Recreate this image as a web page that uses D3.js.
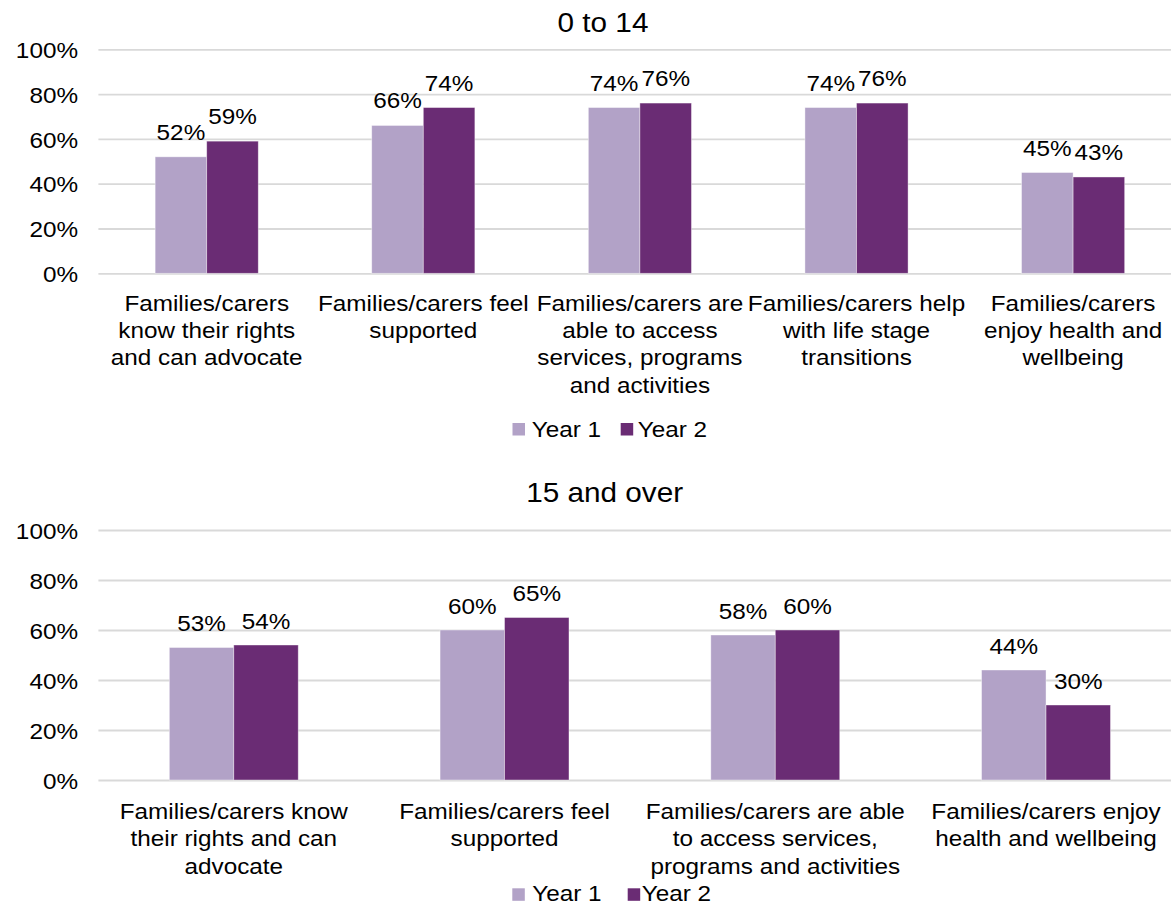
<!DOCTYPE html>
<html>
<head>
<meta charset="utf-8">
<script src="https://cdn.jsdelivr.net/npm/d3@7"></script>
<style>
  body { margin: 0; background: #fff; }
  svg { display: block; }
  text { font-family: "Liberation Sans", Arial, Helvetica, sans-serif; fill: #000; }
</style>
</head>
<body>
<svg id="chart" width="1171" height="905"></svg>
<script>
// ---- data ----
const series = ["Year 1", "Year 2"];
const seriesColors = ["#b2a2c7", "#6a2c74"];
const yTickValues = [0, 20, 40, 60, 80, 100];

const childTitle = "0 to 14";
const childCategories = [
  ["Families/carers", "know their rights", "and can advocate"],
  ["Families/carers feel", "supported"],
  ["Families/carers are", "able to access", "services, programs", "and activities"],
  ["Families/carers help", "with life stage", "transitions"],
  ["Families/carers", "enjoy health and", "wellbeing"]
];
const childYear1 = [52, 66, 74, 74, 45];
const childYear2 = [59, 74, 76, 76, 43];

const adultTitle = "15 and over";
const adultCategories = [
  ["Families/carers know", "their rights and can", "advocate"],
  ["Families/carers feel", "supported"],
  ["Families/carers are able", "to access services,", "programs and activities"],
  ["Families/carers enjoy", "health and wellbeing"]
];
const adultYear1 = [53, 60, 58, 44];
const adultYear2 = [54, 65, 60, 30];

// ---- layout ----
const SX = 1.08;          // horizontal text stretch
const FONT = 22.5;
const TITLE_FONT = 27.5;
const GAP = 2.2;          // gap between clusters, in bar widths
const plotLeft = 98.4, plotRight = 1181.4;

const panels = [
  {
    title: childTitle, titleX: 603, titleY: 31.5,
    categories: childCategories, values: [childYear1, childYear2],
    top: 49.3, bottom: 273.3, labelGap: 17,
    catBase: 310.7, lineH: 27.4,
    legendSquareY: 423, legendTextY: 436.7,
    legendItems: [{sq: 512.5, tx: 531.7}, {sq: 620.7, tx: 637.7}]
  },
  {
    title: adultTitle, titleX: 604.7, titleY: 502.3,
    categories: adultCategories, values: [adultYear1, adultYear2],
    top: 530, bottom: 780, labelGap: 16.3,
    catBase: 819, lineH: 27.3,
    legendSquareY: 888.3, legendTextY: 900.7,
    legendItems: [{sq: 512.3, tx: 532.3}, {sq: 627.7, tx: 641.7}]
  }
];

const svg = d3.select("#chart");
svg.append("rect").attr("width", 1171).attr("height", 905).attr("fill", "#fff");

function stretch(x, y) { return `translate(${x},${y}) scale(${SX},1)`; }

panels.forEach(p => {
  const g = svg.append("g");
  const idx = p.categories.map((d, i) => i);

  const x0 = d3.scaleBand().domain(idx).range([plotLeft, plotRight]).padding(0);
  const bw = x0.bandwidth();
  const barW = bw / (2 + GAP);
  const x1 = d3.scaleBand().domain(series).range([bw / 2 - barW, bw / 2 + barW]).padding(0);
  const y = d3.scaleLinear().domain([0, 100]).range([p.bottom, p.top]);

  // title
  g.append("text")
    .attr("transform", stretch(p.titleX, p.titleY))
    .attr("text-anchor", "middle")
    .style("font-size", TITLE_FONT + "px")
    .text(p.title);

  // y axis with gridlines
  const tickPad = plotLeft - 78;
  g.append("g")
    .attr("transform", `translate(${plotLeft},0)`)
    .call(d3.axisLeft(y).tickValues(yTickValues)
      .tickSize(-(plotRight - plotLeft)).tickPadding(tickPad)
      .tickFormat(d => d + "%"))
    .call(a => a.select(".domain").remove())
    .call(a => a.selectAll(".tick line").attr("stroke", "#d9d9d9").attr("stroke-width", 1.8))
    .call(a => a.selectAll(".tick text")
      .attr("x", -tickPad / SX)
      .attr("dy", "0.36em")
      .attr("transform", `scale(${SX},1)`)
      .style("font-size", FONT + "px")
      .attr("fill", "#000")
      .attr("font-family", null));

  // bars
  const rows = idx.map(i => ({ i, vals: series.map((s, k) => ({ s, k, v: p.values[k][i] })) }));
  const cluster = g.append("g").selectAll("g").data(rows).join("g")
    .attr("transform", d => `translate(${x0(d.i)},0)`);

  cluster.selectAll("rect").data(d => d.vals).join("rect")
    .attr("x", d => x1(d.s))
    .attr("y", d => y(d.v))
    .attr("width", x1.bandwidth())
    .attr("height", d => y(0) - y(d.v))
    .attr("fill", d => seriesColors[d.k])
    .attr("stroke", "#ffffff")
    .attr("stroke-opacity", 0.5)
    .attr("stroke-width", 0.8);

  // value labels
  cluster.selectAll("text.val").data(d => d.vals).join("text")
    .attr("class", "val")
    .attr("transform", d => stretch(x1(d.s) + x1.bandwidth() / 2, y(d.v) - p.labelGap))
    .attr("text-anchor", "middle")
    .style("font-size", FONT + "px")
    .text(d => d.v + "%");

  // category axis
  g.append("g")
    .attr("transform", `translate(0,${p.bottom})`)
    .call(d3.axisBottom(x0).tickSize(0).tickFormat(""))
    .call(a => a.select(".domain").remove())
    .call(a => a.selectAll(".tick text").each(function (i) {
      const t = d3.select(this)
        .attr("y", null).attr("dy", null)
        .attr("transform", stretch(0, p.catBase - p.bottom))
        .attr("text-anchor", "middle")
        .attr("fill", "#000")
        .style("font-size", FONT + "px");
      t.selectAll("tspan").data(p.categories[i]).join("tspan")
        .attr("x", 0)
        .attr("dy", (d, j) => j === 0 ? 0 : p.lineH)
        .text(d => d);
    }))
    .attr("font-family", null);

  // legend
  const leg = g.append("g");
  series.forEach((s, k) => {
    const it = p.legendItems[k];
    leg.append("rect")
      .attr("x", it.sq).attr("y", p.legendSquareY)
      .attr("width", 12.5).attr("height", 12.5)
      .attr("fill", seriesColors[k]);
    leg.append("text")
      .attr("transform", stretch(it.tx, p.legendTextY))
      .style("font-size", FONT + "px")
      .text(s);
  });
});
</script>
</body>
</html>
